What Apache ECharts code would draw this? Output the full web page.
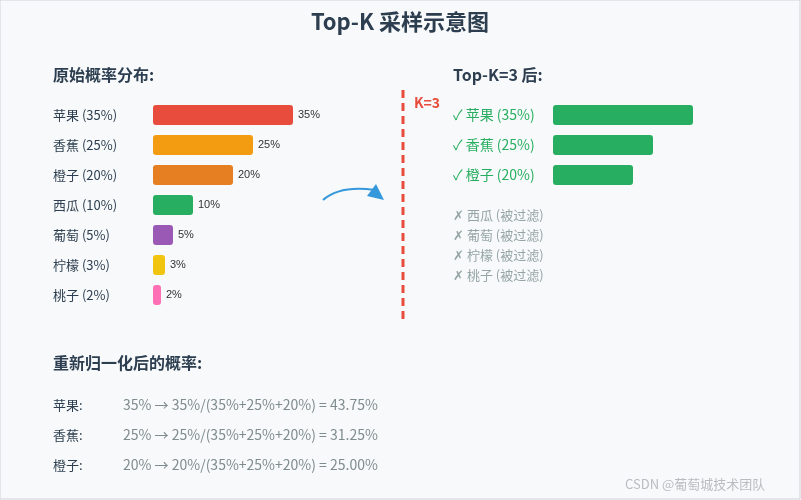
<!DOCTYPE html>
<html><head><meta charset="utf-8">
<script src="https://cdn.jsdelivr.net/npm/echarts@6/dist/echarts.min.js"></script>
<style>html,body{margin:0;padding:0;background:#f8f9fa}#c{width:801px;height:500px}</style>
</head><body><div id="c"></div>
<script>
const categories = ['苹果','香蕉','橙子','西瓜','葡萄','柠檬','桃子'];
const probs = [35,25,20,10,5,3,2];
const colors = ['#e74c3c','#f39c12','#e67e22','#27ae60','#9b59b6','#f1c40f','#ff6fb5'];
const K = 3;
const renorm = ['43.75%','31.25%','25.00%'];
const font = '"Noto Sans CJK SC","Noto Sans",sans-serif';
const chart = echarts.init(document.getElementById('c'));
const topK = categories.slice(0,K);
const g = [];
const txt = (x,y,t,o)=>g.push({type:'text',x:x,y:y,style:Object.assign({text:t,font:'14px '+font,fill:'#555',align:'left',verticalAlign:'middle'},o||{})});
txt(400,22,'Top-K 采样示意图',{font:'bold 22px '+font,fill:'#2c3e50',align:'center'});
txt(53,75,'原始概率分布:',{font:'bold 16px '+font,fill:'#2c3e50'});
txt(453,75,'Top-K='+K+' 后:',{font:'bold 16px '+font,fill:'#2c3e50'});
txt(414,103,'K='+K,{font:'bold 14px '+font,fill:'#e74c3c'});
categories.slice(K).forEach((c,i)=>txt(453,215+i*20,'✗ '+c+' (被过滤)',{fill:'#95a5a6',font:'13px '+font}));
txt(53,363,'重新归一化后的概率:',{font:'bold 16px '+font,fill:'#2c3e50'});
const sum = probs.slice(0,K).map(p=>p+'%').join('+');
topK.forEach((c,i)=>{
  txt(53,405+i*30,c+':',{fill:'#2c3e50',font:'13px '+font});
  txt(123,405+i*30,probs[i]+'% → '+probs[i]+'%/('+sum+') = '+renorm[i],{fill:'#7f8c8d',font:'14px '+font});
});
txt(625,484,'CSDN @葡萄城技术团队',{fill:'#b8bcc0',font:'13px '+font});
g.push({type:'line',shape:{x1:403,y1:90,x2:403,y2:320},style:{stroke:'#e74c3c',lineWidth:3,lineDash:[8,5]}});
g.push({type:'bezierCurve',shape:{x1:323,y1:200,cpx1:340,cpy1:185,x2:375,y2:190},style:{stroke:'#3498db',lineWidth:2,fill:null}});
g.push({type:'polygon',shape:{points:[[384,200],[367,196],[376,184]]},style:{fill:'#3498db'}});
g.push({type:'rect',shape:{x:0,y:0,width:800,height:499},style:{fill:null,stroke:'#d0d4d8',lineWidth:1},z:-1});
chart.setOption({
  backgroundColor:'#f8f9fa',
  graphic:g,
  grid:[{left:153,top:100,width:140,height:210},{left:553,top:100,width:140,height:90}],
  xAxis:[{gridIndex:0,type:'value',min:0,max:35,show:false},{gridIndex:1,type:'value',min:0,max:35,show:false}],
  yAxis:[
    {gridIndex:0,type:'category',data:categories.map((c,i)=>c+' ('+probs[i]+'%)'),inverse:true,axisLine:{show:false},axisTick:{show:false},
     axisLabel:{align:'left',margin:100,color:'#2c3e50',fontSize:13,fontFamily:font}},
    {gridIndex:1,type:'category',data:topK.map((c,i)=>'✓ '+c+' ('+probs[i]+'%)'),inverse:true,axisLine:{show:false},axisTick:{show:false},
     axisLabel:{align:'left',margin:100,color:'#27ae60',fontSize:14,fontFamily:font}}],
  series:[
    {type:'bar',xAxisIndex:0,yAxisIndex:0,barWidth:20,data:probs.map((v,i)=>({value:v,itemStyle:{color:colors[i],borderRadius:3}})),
     label:{show:true,position:'right',formatter:'{c}%',color:'#333',fontSize:11,distance:5}},
    {type:'bar',xAxisIndex:1,yAxisIndex:1,barWidth:20,data:probs.slice(0,K),itemStyle:{color:'#27ae60',borderRadius:3}}
  ]
});
</script></body></html>
